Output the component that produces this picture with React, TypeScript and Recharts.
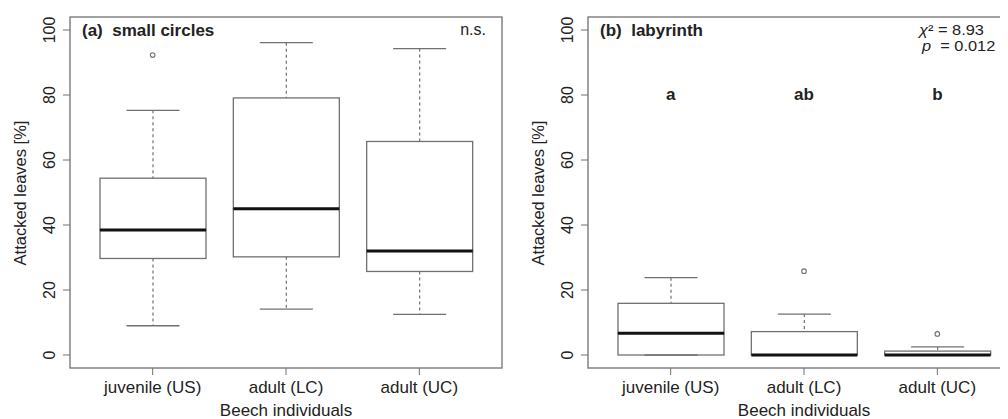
import { Bar, ComposedChart, Scatter, XAxis, YAxis } from "recharts"

const groups = ["juvenile (US)", "adult (LC)", "adult (UC)"]
const positions = [1, 2, 3]
const yTicks = [0, 20, 40, 60, 80, 100]

// (a) small circles: whisker ends, quartiles, median
const circlesLow = [9.0, 14.1, 12.5]
const circlesQ1 = [29.7, 30.2, 25.7]
const circlesMedian = [38.5, 45.0, 32.0]
const circlesQ3 = [54.4, 79.1, 65.7]
const circlesHigh = [75.3, 96.1, 94.3]
const circlesOutliers = [{ pos: 1, value: 92.3 }]

// (b) labyrinth
const labyLow = [0, 0, 0]
const labyQ1 = [0, 0, 0]
const labyMedian = [6.7, 0, 0]
const labyQ3 = [15.9, 7.2, 1.2]
const labyHigh = [23.8, 12.6, 2.5]
const labyOutliers = [
  { pos: 2, value: 25.8 },
  { pos: 3, value: 6.5 },
]
const labyLetters = ["a", "ab", "b"]
const letterLevel = 80

const FONT = '"Liberation Sans", Arial, sans-serif'
const GREY = "#707070"
const INK = "#222"

function makeRows(low: number[], q1: number[], med: number[], q3: number[], high: number[]) {
  return positions.map((pos, i) => ({
    pos,
    base: low[i],
    lowWhisker: q1[i] - low[i],
    lowBox: med[i] - q1[i],
    highBox: q3[i] - med[i],
    highWhisker: high[i] - q3[i],
  }))
}

const circlesRows = makeRows(circlesLow, circlesQ1, circlesMedian, circlesQ3, circlesHigh)
const labyRows = makeRows(labyLow, labyQ1, labyMedian, labyQ3, labyHigh)
const letterRows = positions.map((pos, i) => ({ pos, value: letterLevel, letter: labyLetters[i] }))

const Empty = () => <g />

const LowWhisker = (p: any) => {
  const cx = p.x + p.width / 2
  const bottom = p.y + p.height
  return (
    <g>
      {p.height > 0 && (
        <line x1={cx} x2={cx} y1={p.y} y2={bottom} stroke={GREY} strokeWidth={1.2} strokeDasharray="3 3" />
      )}
      <line x1={cx - p.width / 4} x2={cx + p.width / 4} y1={bottom} y2={bottom} stroke={GREY} strokeWidth={1.3} />
    </g>
  )
}

const HighWhisker = (p: any) => {
  const cx = p.x + p.width / 2
  return (
    <g>
      {p.height > 0 && (
        <line x1={cx} x2={cx} y1={p.y} y2={p.y + p.height} stroke={GREY} strokeWidth={1.2} strokeDasharray="3 3" />
      )}
      <line x1={cx - p.width / 4} x2={cx + p.width / 4} y1={p.y} y2={p.y} stroke={GREY} strokeWidth={1.3} />
    </g>
  )
}

const LowBox = (p: any) => (
  <rect x={p.x} y={p.y} width={p.width} height={Math.max(p.height, 0)} fill="none" stroke={GREY} strokeWidth={1.3} />
)

const HighBox = (p: any) => (
  <g>
    <rect x={p.x} y={p.y} width={p.width} height={p.height} fill="none" stroke={GREY} strokeWidth={1.3} />
    <line x1={p.x} x2={p.x + p.width} y1={p.y + p.height} y2={p.y + p.height} stroke="#111" strokeWidth={3} />
  </g>
)

const Outlier = (p: any) => <circle cx={p.cx} cy={p.cy} r={2.3} fill="none" stroke={GREY} strokeWidth={1.1} />

const Letter = (p: any) => (
  <text x={p.cx} y={p.cy + 5} textAnchor="middle" fontFamily={FONT} fontSize={17} fontWeight="bold" fill={INK}>
    {p.payload?.letter}
  </text>
)

const XTick = (p: any) => (
  <text x={p.x} y={p.y + 16} textAnchor="middle" fontFamily={FONT} fontSize={17} fill={INK}>
    {groups[p.payload.value - 1]}
  </text>
)

const YTick = (p: any) => (
  <text
    transform={`translate(${p.x - 6} ${p.y}) rotate(-90)`}
    textAnchor="middle"
    fontFamily={FONT}
    fontSize={16}
    fill={INK}
  >
    {p.payload.value}
  </text>
)

function BoxPanel({ rows, outliers, letters, left, axisWidth }: any) {
  return (
    <div style={{ position: "absolute", left, top: 0 }}>
      <ComposedChart
        width={520}
        height={419}
        data={rows}
        margin={{ top: 17, left: 0, right: 520 - axisWidth - 432, bottom: 0 }}
      >
        <XAxis
          type="number"
          dataKey="pos"
          domain={[0.38, 3.62]}
          ticks={positions}
          interval={0}
          height={51}
          axisLine={false}
          tickSize={7}
          tickMargin={2}
          tickLine={{ stroke: GREY }}
          tick={<XTick />}
          allowDataOverflow
        />
        <YAxis
          type="number"
          domain={[-4, 104]}
          ticks={yTicks}
          interval={0}
          width={axisWidth}
          axisLine={false}
          tickSize={7}
          tickMargin={2}
          tickLine={{ stroke: GREY }}
          tick={<YTick />}
          allowDataOverflow
        />
        <Bar dataKey="base" stackId="box" barSize={106} shape={<Empty />} isAnimationActive={false} />
        <Bar dataKey="lowWhisker" stackId="box" barSize={106} shape={<LowWhisker />} isAnimationActive={false} />
        <Bar dataKey="lowBox" stackId="box" barSize={106} shape={<LowBox />} isAnimationActive={false} />
        <Bar dataKey="highBox" stackId="box" barSize={106} shape={<HighBox />} isAnimationActive={false} />
        <Bar dataKey="highWhisker" stackId="box" barSize={106} shape={<HighWhisker />} isAnimationActive={false} />
        <Scatter data={outliers} dataKey="value" shape={<Outlier />} isAnimationActive={false} />
        {letters && <Scatter data={letters} dataKey="value" shape={<Letter />} isAnimationActive={false} />}
      </ComposedChart>
    </div>
  )
}

export default function App() {
  const text = { fontFamily: FONT, fill: INK }
  return (
    <div
      style={{
        margin: "-8px -8px 0 -8px",
        width: 1008,
        height: 419,
        overflow: "hidden",
        position: "relative",
        background: "#fff",
      }}
    >
      <BoxPanel rows={circlesRows} outliers={circlesOutliers} left={0} axisWidth={70} />
      <BoxPanel rows={labyRows} outliers={labyOutliers} letters={letterRows} left={508} axisWidth={80} />
      <svg width={1008} height={419} style={{ position: "absolute", left: 0, top: 0, pointerEvents: "none" }}>
        <rect x={70} y={17} width={432} height={351} fill="none" stroke={GREY} strokeWidth={1.3} />
        <rect x={588} y={17} width={432} height={351} fill="none" stroke={GREY} strokeWidth={1.3} />

        <text x={82} y={36} fontSize={17} fontWeight="bold" style={{ whiteSpace: "pre" }} {...text}>
          (a)  small circles
        </text>
        <text x={486} y={35} fontSize={16} textAnchor="end" {...text}>
          n.s.
        </text>

        <text x={600} y={36} fontSize={17} fontWeight="bold" style={{ whiteSpace: "pre" }} {...text}>
          (b)  labyrinth
        </text>
        <text transform="translate(919 34.5) scale(1.17 1)" fontSize={14} style={{ whiteSpace: "pre" }} {...text}>
          <tspan fontStyle="italic">χ</tspan>² = 8.93
        </text>
        <text transform="translate(922 50.5) scale(1.17 1)" fontSize={14} style={{ whiteSpace: "pre" }} {...text}>
          <tspan fontStyle="italic">p</tspan>{"  = 0.012"}
        </text>

        <text transform="translate(26 193) rotate(-90)" textAnchor="middle" fontSize={16.5} {...text}>
          Attacked leaves [%]
        </text>
        <text transform="translate(544 193) rotate(-90)" textAnchor="middle" fontSize={16.5} {...text}>
          Attacked leaves [%]
        </text>
        <text x={286} y={416} textAnchor="middle" fontSize={17} {...text}>
          Beech individuals
        </text>
        <text x={804} y={416} textAnchor="middle" fontSize={17} {...text}>
          Beech individuals
        </text>
      </svg>
    </div>
  )
}
